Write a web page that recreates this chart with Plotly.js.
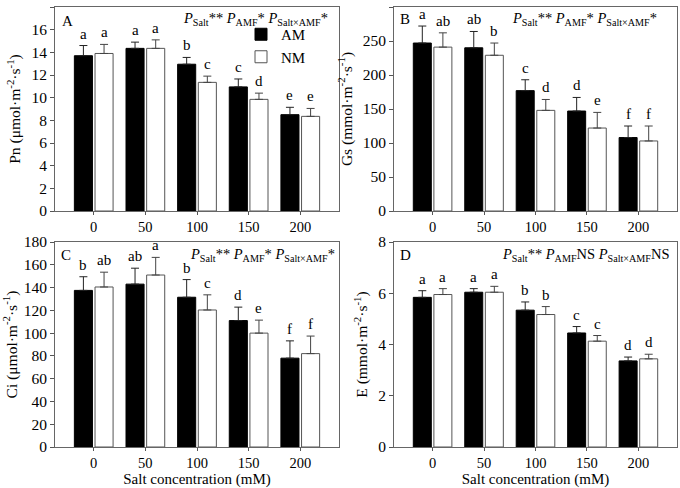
<!DOCTYPE html>
<html>
<head>
<meta charset="utf-8">
<script src="https://cdn.plot.ly/plotly-3.0.1.min.js"></script>
<style>html,body{margin:0;padding:0;background:#fff;}#chart{width:680px;height:488px;}</style>
</head>
<body>
<div id="chart"></div>
<script>
// Categories (salt concentration, mM)
const categories = ['0', '50', '100', '150', '200'];

// Panel A: Pn
const pnAM = [13.7, 14.35, 12.95, 10.95, 8.5];
const pnAMerr = [0.9, 0.55, 0.6, 0.7, 0.65];
const pnNM = [13.9, 14.35, 11.35, 9.85, 8.35];
const pnNMerr = [0.8, 0.75, 0.55, 0.55, 0.7];
const pnAMlet = ['a', 'a', 'b', 'c', 'e'];
const pnNMlet = ['a', 'a', 'c', 'd', 'e'];

// Panel B: Gs
const gsAM = [247, 240, 177, 147, 108];
const gsAMerr = [25, 24, 16, 20, 17];
const gsNM = [241, 229, 148, 122, 103];
const gsNMerr = [21, 18, 16, 23, 22];
const gsAMlet = ['a', 'ab', 'c', 'd', 'f'];
const gsNMlet = ['ab', 'b', 'd', 'e', 'f'];

// Panel C: Ci
const ciAM = [137.5, 143, 131.5, 111, 78];
const ciAMerr = [12, 14, 15.5, 11.8, 15.2];
const ciNM = [140.5, 151, 120.3, 100, 82];
const ciNMerr = [13, 15.5, 13.3, 11.4, 15.4];
const ciAMlet = ['b', 'ab', 'b', 'd', 'f'];
const ciNMlet = ['ab', 'a', 'c', 'e', 'f'];

// Panel D: E
const eAM = [5.84, 6.04, 5.34, 4.45, 3.36];
const eAMerr = [0.26, 0.14, 0.32, 0.25, 0.15];
const eNM = [5.95, 6.04, 5.17, 4.13, 3.44];
const eNMerr = [0.23, 0.23, 0.31, 0.22, 0.18];
const eAMlet = ['a', 'a', 'b', 'c', 'd'];
const eNMlet = ['a', 'a', 'b', 'c', 'd'];

const seriesNames = ['AM', 'NM'];
const yTitles = [
  'Pn (μmol·m<sup>-2</sup>·s<sup>-1</sup>)',
  'Gs (mmol·m<sup>-2</sup>·s<sup>-1</sup>)',
  'Ci (μmol·m<sup>-2</sup>·s<sup>-1</sup>)',
  'E (mmol·m<sup>-2</sup>·s<sup>-1</sup>)'
];
const xTitle = 'Salt concentration (mM)';
const panelLabels = ['A', 'B', 'C', 'D'];
const pTexts = [
  '<i>P</i><sub>Salt</sub>** <i>P</i><sub>AMF</sub>* <i>P</i><sub>Salt×AMF</sub>*',
  '<i>P</i><sub>Salt</sub>** <i>P</i><sub>AMF</sub>* <i>P</i><sub>Salt×AMF</sub>*',
  '<i>P</i><sub>Salt</sub>** <i>P</i><sub>AMF</sub>* <i>P</i><sub>Salt×AMF</sub>*',
  '<i>P</i><sub>Salt</sub>** <i>P</i><sub>AMF</sub>NS <i>P</i><sub>Salt×AMF</sub>NS'
];
const yRanges = [[0, 18], [0, 300], [0, 180], [0, 8]];
const yDticks = [2, 50, 20, 2];

const panels = [
  {am: pnAM, amE: pnAMerr, nm: pnNM, nmE: pnNMerr, amL: pnAMlet, nmL: pnNMlet},
  {am: gsAM, amE: gsAMerr, nm: gsNM, nmE: gsNMerr, amL: gsAMlet, nmL: gsNMlet},
  {am: ciAM, amE: ciAMerr, nm: ciNM, nmE: ciNMerr, amL: ciAMlet, nmL: ciNMlet},
  {am: eAM, amE: eAMerr, nm: eNM, nmE: eNMerr, amL: eAMlet, nmL: eNMlet}
];

const FONT = 'Liberation Serif';
const W = 680, H = 488;
// pixel frames [left, right, top, bottom]
const frames = [[55, 339, 7, 211], [394, 677, 7, 211], [55, 339, 242, 447], [394, 677, 242, 447]];
// pixel centres of the panel letter and of the P-value line
const labelPos = [[67, 21], [405, 19], [66, 255], [405, 255]];
const pPos = [[255, 19], [584, 19], [262, 255], [586, 255]];

const idx = categories.map((c, i) => i);
const off = 0.2;
const traces = [];
const annotations = [];
const layout = {
  width: W, height: H,
  margin: {l: 0, r: 0, t: 0, b: 0},
  paper_bgcolor: '#fff', plot_bgcolor: '#fff',
  font: {family: FONT, size: 15, color: '#000'},
  barmode: 'group', bargap: 0.2, bargroupgap: 0.125,
  showlegend: true,
  legend: {x: 241 / W, y: 1 - 18 / H, xanchor: 'left', yanchor: 'top',
    bgcolor: 'rgba(0,0,0,0)', font: {size: 15, family: FONT, color: '#000'}, tracegroupgap: 0, itemwidth: 30},
  annotations: annotations
};

panels.forEach((p, k) => {
  const n = k + 1;
  const xa = 'x' + (n === 1 ? '' : n), ya = 'y' + (n === 1 ? '' : n);
  const fr = frames[k];
  traces.push({
    type: 'bar', x: idx, y: p.am, name: seriesNames[0], xaxis: xa, yaxis: ya,
    marker: {color: '#000', line: {color: '#000', width: 1}},
    error_y: {type: 'data', symmetric: false, array: p.amE, arrayminus: p.amE.map(() => 0), color: '#222', thickness: 1, width: 4},
    showlegend: k === 0, legendgroup: 'AM', hoverinfo: 'skip'
  });
  traces.push({
    type: 'bar', x: idx, y: p.nm, name: seriesNames[1], xaxis: xa, yaxis: ya,
    marker: {color: '#fff', line: {color: '#555', width: 1}},
    error_y: {type: 'data', symmetric: false, array: p.nmE, arrayminus: p.nmE.map(() => 0), color: '#444', thickness: 1, width: 4},
    showlegend: k === 0, legendgroup: 'NM', hoverinfo: 'skip'
  });
  // significance letters
  idx.forEach(i => {
    annotations.push({xref: xa, yref: ya, x: i - off, y: p.am[i] + p.amE[i], text: p.amL[i],
      showarrow: false, yanchor: 'bottom', yshift: 2, font: {size: 15, family: FONT, color: '#000'}});
    annotations.push({xref: xa, yref: ya, x: i + off, y: p.nm[i] + p.nmE[i], text: p.nmL[i],
      showarrow: false, yanchor: 'bottom', yshift: 2, font: {size: 15, family: FONT, color: '#000'}});
  });
  const axKeyX = 'xaxis' + (n === 1 ? '' : n), axKeyY = 'yaxis' + (n === 1 ? '' : n);
  layout[axKeyX] = {
    domain: [fr[0] / W, fr[1] / W], anchor: ya,
    range: [-0.75, 4.75], tickmode: 'array', tickvals: idx, ticktext: categories,
    ticks: 'outside', ticklen: 3, tickcolor: '#555', showline: true, mirror: true,
    linecolor: '#666', linewidth: 1, showgrid: false, zeroline: false,
    tickfont: {size: 14.5, family: FONT, color: '#000'},
    title: k >= 2 ? {text: xTitle, font: {size: 15, family: FONT, color: '#000'}, standoff: 3} : {text: ''}
  };
  layout[axKeyY] = {
    domain: [1 - fr[3] / H, 1 - fr[2] / H], anchor: xa,
    range: yRanges[k], dtick: yDticks[k], tick0: 0,
    ticks: 'outside', ticklen: 4, tickcolor: '#555', showline: true, mirror: true,
    linecolor: '#666', linewidth: 1, showgrid: false, zeroline: false,
    tickfont: {size: 15.5, family: FONT, color: '#000'},
    title: {text: yTitles[k], font: {size: 15.5, family: FONT, color: '#000'}, standoff: 6}
  };
  annotations.push({xref: 'paper', yref: 'paper', x: labelPos[k][0] / W, y: 1 - labelPos[k][1] / H,
    xanchor: 'center', yanchor: 'middle', text: panelLabels[k], showarrow: false, font: {size: 15, family: FONT, color: '#000'}});
  annotations.push({xref: 'paper', yref: 'paper', x: pPos[k][0] / W, y: 1 - pPos[k][1] / H,
    xanchor: 'center', yanchor: 'middle', text: pTexts[k], showarrow: false, font: {size: 14.5, family: FONT, color: '#000'}});
});

Plotly.newPlot('chart', traces, layout, {displayModeBar: false, staticPlot: true});
</script>
</body>
</html>
